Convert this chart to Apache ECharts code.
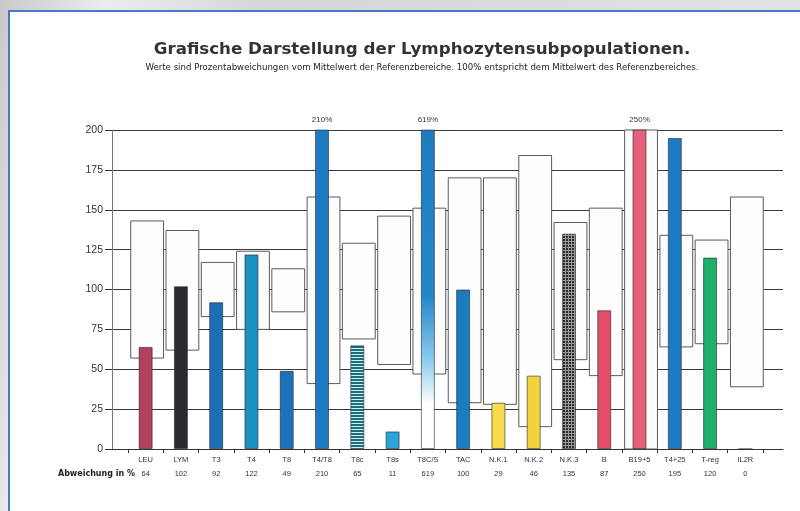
<!DOCTYPE html>
<html>
<head>
<meta charset="utf-8">
<script src="https://cdn.jsdelivr.net/npm/echarts@6/dist/echarts.min.js"></script>
<style>
  html, body { margin: 0; padding: 0; width: 800px; height: 511px; overflow: hidden;
    background: linear-gradient(100deg, #c9c9c9 0%, #ececec 12%, #d6d6d6 30%, #e4e4e4 100%); }
  #frame { position: absolute; left: 8px; top: 10px; width: 820px; height: 520px;
    background: #fff; border-left: 2px solid #4a78c9; border-top: 2px solid #4a78c9; }
  #chart { position: absolute; left: 0; top: 0; width: 800px; height: 511px; }
</style>
</head>
<body>
<div id="frame"></div>
<div id="chart"></div>
<script>
// Kategorien und Werte (Abweichung in %)
const categories = ['LEU', 'LYM', 'T3', 'T4', 'T8', 'T4/T8', 'T8c', 'T8s', 'T8C/S', 'TAC',
  'N.K.1', 'N.K.2', 'N.K.3', 'B', 'B19+5', 'T4+25', 'T-reg', 'IL2R']
const deviation = [64, 102, 92, 122, 49, 210, 65, 11, 619, 100, 29, 46, 135, 87, 250, 195, 120, 0]
// Referenzbereiche (unten / oben)
const refLow = [57, 62, 83, 75, 86, 41, 69, 53, 47, 29, 28, 14, 56, 46, 0, 64, 66, 39]
const refHigh = [143, 137, 117, 124, 113, 158, 129, 146, 151, 170, 170, 184, 142, 151, 200, 134, 131, 158]
const yTicks = [0, 25, 50, 75, 100, 125, 150, 175, 200]

// Muster für schraffierte Balken
const makePattern = (w, h, draw) => {
  const c = document.createElement('canvas')
  c.width = w
  c.height = h
  draw(c.getContext('2d'))
  return { image: c, repeat: 'repeat' }
}
const stripePattern = makePattern(4, 3, ctx => {
  ctx.fillStyle = '#17707f'
  ctx.fillRect(0, 0, 4, 3)
  ctx.fillStyle = '#d9eef1'
  ctx.fillRect(0, 0, 4, 1)
})
const gridPattern = makePattern(3, 3, ctx => {
  ctx.fillStyle = '#2c2c2c'
  ctx.fillRect(0, 0, 3, 3)
  ctx.fillStyle = '#9a9a9a'
  ctx.fillRect(0, 1, 3, 1)
  ctx.fillRect(1, 0, 1, 3)
})
const gradientBlue = new echarts.graphic.LinearGradient(0, 0, 0, 1, [
  { offset: 0, color: '#1c7cc2' },
  { offset: 0.52, color: '#2288c9' },
  { offset: 0.72, color: '#8ccbef' },
  { offset: 0.86, color: '#ffffff' },
  { offset: 1, color: '#ffffff' },
])

const barColors = ['#b3405e', '#2b2b30', '#1b6fb6', '#1a92c4', '#1b72ba', '#1b7cc2', stripePattern,
  '#2ba3dc', gradientBlue, '#1b7cc0', '#f6dc4c', '#f3d23e', gridPattern, '#e24e68', '#e75f79',
  '#1b7bc4', '#1fae6c', '#cccccc']

const chart = echarts.init(document.getElementById('chart'))

const option = {
  animation: false,
  title: {
    text: 'Grafische Darstellung der Lymphozytensubpopulationen.',
    subtext: 'Werte sind Prozentabweichungen vom Mittelwert der Referenzbereiche. 100% entspricht dem Mittelwert des Referenzbereiches.',
    left: 417,
    top: 36,
    textAlign: 'center',
    itemGap: 5,
    textStyle: { fontFamily: 'DejaVu Sans', fontWeight: 'bold', fontSize: 16.7, color: '#333' },
    subtextStyle: { fontFamily: 'DejaVu Sans', fontSize: 8.6, color: '#222' },
  },
  grid: [
    { left: 128, right: 37, top: 130, bottom: 62 },
    { left: 112, right: 17, top: 130, bottom: 62 },
  ],
  xAxis: [
    {
      type: 'category',
      gridIndex: 0,
      data: categories,
      axisLine: { show: false },
      axisTick: { show: true, length: 4, lineStyle: { color: '#333' } },
      axisLabel: { margin: 7, fontSize: 7.5, fontFamily: 'Liberation Sans', color: '#333' },
    },
    {
      type: 'category',
      gridIndex: 0,
      position: 'bottom',
      offset: 14,
      data: categories,
      axisLine: { show: false },
      axisTick: { show: false },
      axisLabel: {
        margin: 7, fontSize: 7.5, fontFamily: 'Liberation Sans', color: '#333',
        formatter: (v, i) => String(deviation[i]),
      },
      name: 'Abweichung in %',
      nameLocation: 'start',
      nameGap: -7,
      nameTextStyle: { fontFamily: 'DejaVu Sans', fontWeight: 'bold', fontSize: 8, color: '#222',
        verticalAlign: 'top', padding: [7, 0, 0, 0] },
    },
    {
      type: 'value',
      gridIndex: 1,
      min: 0,
      max: 1,
      axisLine: { show: true, lineStyle: { color: '#333', width: 1.2 } },
      axisTick: { show: false },
      axisLabel: { show: false },
      splitLine: { show: false },
    },
  ],
  yAxis: [
    { type: 'value', gridIndex: 0, min: 0, max: 200, show: false },
    {
      type: 'value',
      gridIndex: 1,
      min: 0,
      max: 200,
      interval: 25,
      axisLine: { show: true, lineStyle: { color: '#777', width: 1 } },
      axisTick: { show: true, length: 7, lineStyle: { color: '#333' } },
      axisLabel: { margin: 9, fontSize: 10.5, fontFamily: 'Liberation Sans', color: '#333',
        formatter: v => (yTicks.includes(v) ? String(v) : '') },
      splitLine: { show: true, lineStyle: { color: '#3a3a3a', width: 1.2 } },
    },
  ],
  series: [
    {
      name: 'Referenzbereich',
      type: 'custom',
      xAxisIndex: 0,
      yAxisIndex: 0,
      z: 3,
      data: categories.map((c, i) => [i, refLow[i], refHigh[i]]),
      encode: { x: 0, y: [1, 2] },
      renderItem: (params, api) => {
        const lo = api.coord([api.value(0), api.value(1)])
        const hi = api.coord([api.value(0), api.value(2)])
        const w = api.size([1, 0])[0] * 0.93
        return {
          type: 'rect',
          shape: { x: lo[0] - w / 2 + 1.5, y: hi[1], width: w, height: lo[1] - hi[1] },
          style: { fill: '#fdfdfd', stroke: '#5a5a5a', lineWidth: 1 },
        }
      },
    },
    {
      name: 'Abweichung',
      type: 'bar',
      xAxisIndex: 0,
      yAxisIndex: 0,
      z: 4,
      barWidth: 14,
      clip: true,
      data: deviation.map((v, i) => ({
        value: v,
        itemStyle: { color: barColors[i] },
      })),
      itemStyle: { borderColor: 'rgba(40,40,40,0.6)', borderWidth: 1 },
      label: {
        show: true,
        position: 'top',
        distance: 6,
        fontSize: 8,
        fontFamily: 'Liberation Sans',
        color: '#333',
        formatter: p => (p.value > 200 ? p.value + '%' : ''),
      },
    },
  ],
}

chart.setOption(option)
</script>
</body>
</html>
